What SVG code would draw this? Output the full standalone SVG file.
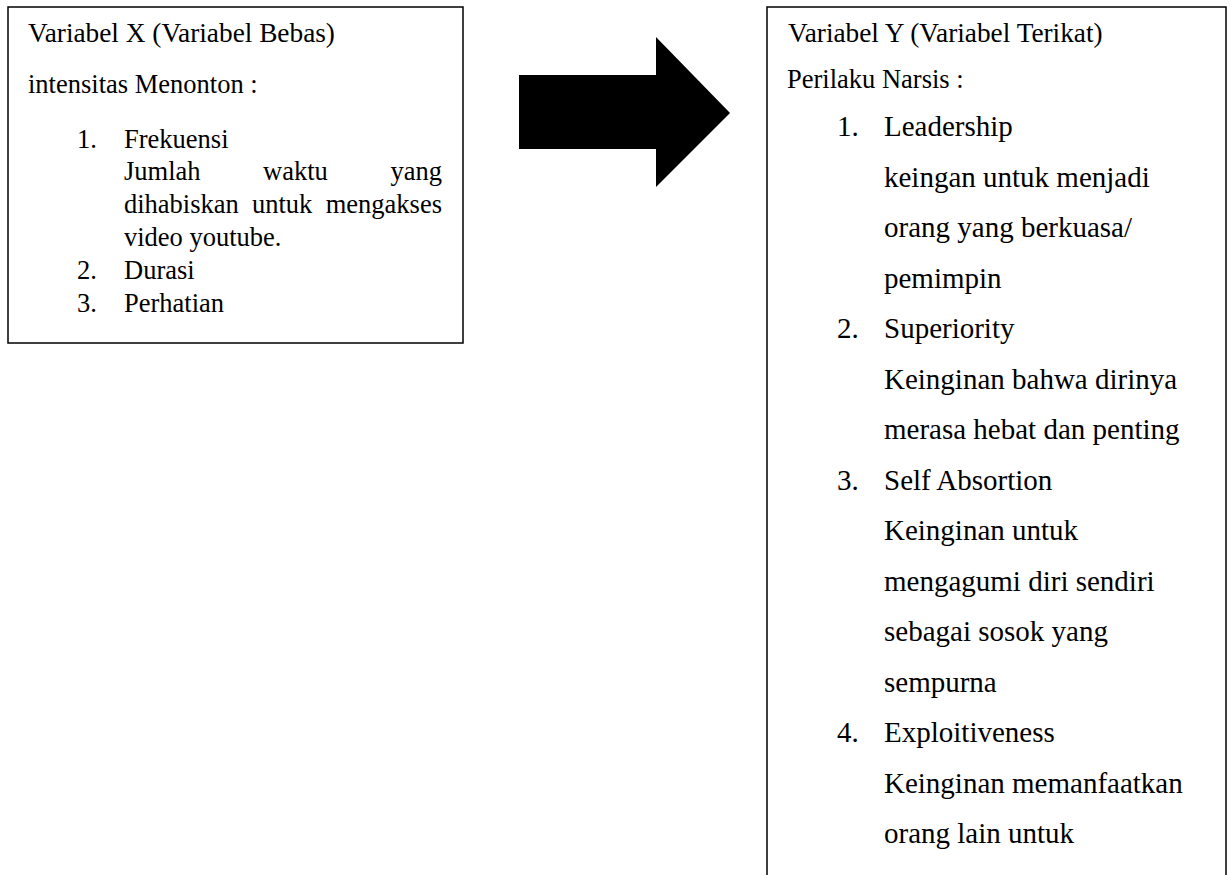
<svg xmlns="http://www.w3.org/2000/svg" width="1232" height="875" viewBox="0 0 1232 875">
<style>
.box{fill:#fff;stroke:#000;stroke-width:1.5}
.t{font-family:"Liberation Serif","Times New Roman",serif;fill:#000}
.s{font-size:26.5px}
.h{font-size:27.3px}
.l{font-size:29px}
</style>
<rect width="1232" height="875" fill="#fff"/>
<g id="node-x">
<rect class="box" x="8" y="7" width="455" height="336"/>
<text class="t h" x="28" y="42">Variabel X (Variabel Bebas)</text>
<text class="t s" x="28" y="93">intensitas Menonton :</text>
<text class="t s" x="77" y="148">1.</text>
<text class="t s" x="124" y="148">Frekuensi</text>
<text class="t s" x="124" y="180">Jumlah</text>
<text class="t s" x="263" y="180">waktu</text>
<text class="t s" x="442" y="180" text-anchor="end">yang</text>
<text class="t s" x="124" y="213">dihabiskan</text>
<text class="t s" x="252" y="213">untuk</text>
<text class="t s" x="442" y="213" text-anchor="end">mengakses</text>
<text class="t s" x="124" y="246">video youtube.</text>
<text class="t s" x="77" y="279">2.</text>
<text class="t s" x="124" y="279">Durasi</text>
<text class="t s" x="77" y="312">3.</text>
<text class="t s" x="124" y="312">Perhatian</text>
</g>
<g id="connectors">
<polygon points="519,75 656,75 656,37 730,113 656,187 656,149 519,149" fill="#000"/>
</g>
<g id="node-y">
<rect class="box" x="767" y="7" width="459" height="900"/>
<text class="t h" x="788" y="42">Variabel Y (Variabel Terikat)</text>
<text class="t s" x="787" y="88">Perilaku Narsis :</text>
<text class="t l" x="837" y="136">1.</text>
<text class="t l" x="884" y="136">Leadership</text>
<text class="t l" x="884" y="186.5">keingan untuk menjadi</text>
<text class="t l" x="884" y="237">orang yang berkuasa/</text>
<text class="t l" x="884" y="287.5">pemimpin</text>
<text class="t l" x="837" y="338">2.</text>
<text class="t l" x="884" y="338">Superiority</text>
<text class="t l" x="884" y="388.5">Keinginan bahwa dirinya</text>
<text class="t l" x="884" y="439">merasa hebat dan penting</text>
<text class="t l" x="837" y="489.5">3.</text>
<text class="t l" x="884" y="489.5">Self Absortion</text>
<text class="t l" x="884" y="540">Keinginan untuk</text>
<text class="t l" x="884" y="590.5">mengagumi diri sendiri</text>
<text class="t l" x="884" y="641">sebagai sosok yang</text>
<text class="t l" x="884" y="691.5">sempurna</text>
<text class="t l" x="837" y="742">4.</text>
<text class="t l" x="884" y="742">Exploitiveness</text>
<text class="t l" x="884" y="792.5">Keinginan memanfaatkan</text>
<text class="t l" x="884" y="843">orang lain untuk</text>
</g>
</svg>
